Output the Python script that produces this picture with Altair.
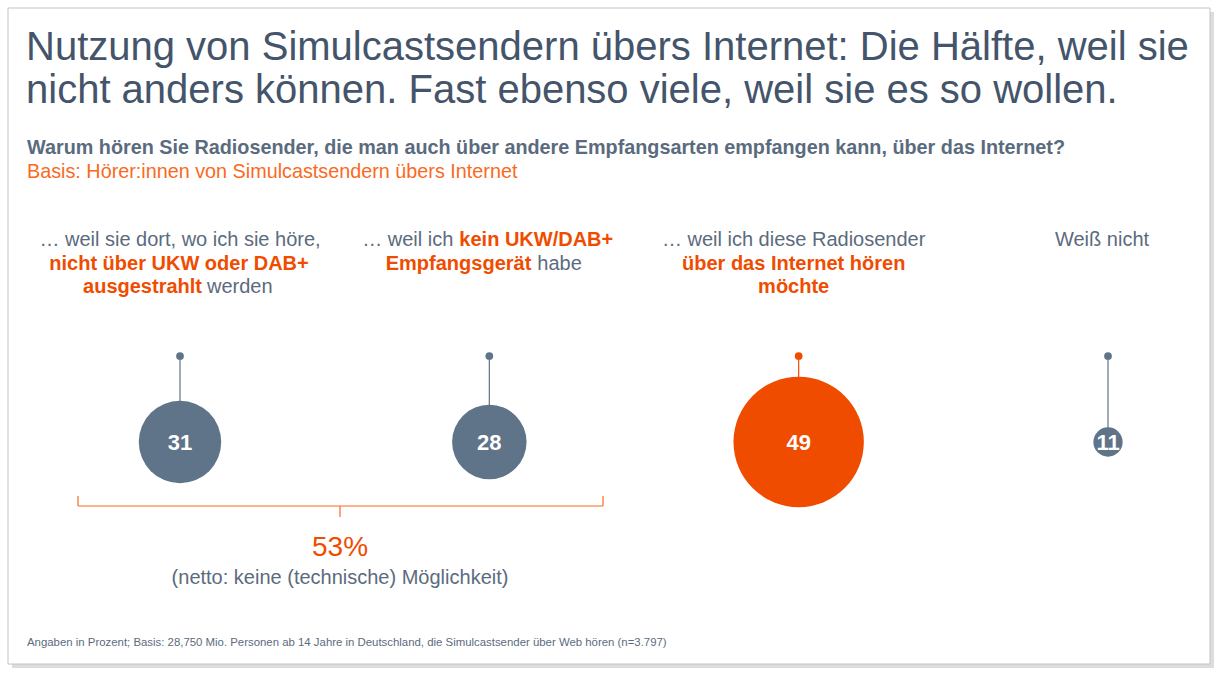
import altair as alt
import pandas as pd

# ---------------- data ----------------
categories = ["nicht_ausgestrahlt", "kein_geraet", "internet_moechte", "weiss_nicht"]
values = [31, 28, 49, 11]
groups = ["base", "base", "hl", "base"]

seg_cat = ["nicht_ausgestrahlt", "nicht_ausgestrahlt", "nicht_ausgestrahlt", "nicht_ausgestrahlt",
           "kein_geraet", "kein_geraet", "kein_geraet", "kein_geraet",
           "internet_moechte", "internet_moechte", "internet_moechte",
           "weiss_nicht"]
seg_line = [0, 1, 2, 2,
            0, 0, 1, 1,
            0, 1, 2,
            0]
seg_text = ["… weil sie dort, wo ich sie höre,", "nicht über UKW oder DAB+", "ausgestrahlt", "werden",
            "… weil ich", "kein UKW/DAB+", "Empfangsgerät", "habe",
            "… weil ich diese Radiosender", "über das Internet hören", "möchte",
            "Weiß nicht"]
seg_bold = [False, True, True, False,
            False, True, True, False,
            False, True, True,
            False]

title_lines = ["Nutzung von Simulcastsendern übers Internet: Die Hälfte, weil sie",
               "nicht anders können. Fast ebenso viele, weil sie es so wollen."]
subtitle = "Warum hören Sie Radiosender, die man auch über andere Empfangsarten empfangen kann, über das Internet?"
basis = "Basis: Hörer:innen von Simulcastsendern übers Internet"
net_value = "53%"
net_label = "(netto: keine (technische) Möglichkeit)"
footnote = "Angaben in Prozent; Basis: 28,750 Mio. Personen ab 14 Jahre in Deutschland, die Simulcastsender über Web hören (n=3.797)"

# ---------------- styles / layout ----------------
FONT = "Liberation Sans"
GRAY = "#5f7389"
TEXT_GRAY = "#5b6b7e"
TITLE = "#44546a"
ORANGE = "#f04c00"
ORANGE_LIGHT = "#fa6a1e"

# per-segment alignment and horizontal offset (layout, not data)
seg_align = ["center", "center", "right", "left",
             "right", "left", "right", "left",
             "center", "center", "center",
             "center"]
seg_dx = [0, -1, 22, 27,
          -36, -30, 42, 48,
          -5, -5, -5,
          -6]

df = pd.DataFrame({"cat": categories, "value": values, "grp": groups})
seg = pd.DataFrame({"cat": seg_cat, "line": seg_line, "text": seg_text,
                    "bold": seg_bold, "align": seg_align, "dx": seg_dx})
one = pd.DataFrame({"a": [0]})

xscale = alt.Scale(type="point", domain=categories, range=[180, 1108], padding=0)
X = alt.X("cat:N", scale=xscale, axis=None)
color = alt.Color("grp:N", scale=alt.Scale(domain=["base", "hl"], range=[GRAY, ORANGE]), legend=None)

base = alt.Chart(df)

# frame (decoration)
shadow = alt.Chart(one).mark_rect(fill="#dddddd").encode(
    x=alt.value(12), x2=alt.value(1214), y=alt.value(12), y2=alt.value(668))
frame = alt.Chart(one).mark_rect(fill="white", stroke="#c4c4c4", strokeWidth=1).encode(
    x=alt.value(8), x2=alt.value(1210), y=alt.value(8), y2=alt.value(664))

stems = base.mark_rule(strokeWidth=1.2).encode(x=X, y=alt.value(356), y2=alt.value(442), color=color)
dots = base.mark_circle(size=60, opacity=1).encode(x=X, y=alt.value(356), color=color)
bubbles = base.mark_circle(opacity=1).encode(
    x=X, y=alt.value(442), color=color,
    size=alt.Size("value:Q", scale=alt.Scale(type="pow", exponent=2, domain=[0, 50], range=[0, 17689]),
                  legend=None))
numbers = base.mark_text(font=FONT, fontSize=22, fontWeight="bold", color="white",
                         baseline="middle").encode(x=X, y=alt.value(443), text="value:Q")

yline = alt.Y("line:O", scale=alt.Scale(type="point", domain=[0, 1, 2], range=[240, 287], padding=0),
              axis=None)
label_layers = []
for b in [False, True]:
    for al in ["center", "left", "right"]:
        label_layers.append(
            alt.Chart(seg).transform_filter(
                f"datum.bold == {'true' if b else 'false'} && datum.align == '{al}'"
            ).mark_text(font=FONT, fontSize=20, align=al, baseline="middle",
                        fontWeight="bold" if b else "normal",
                        color=ORANGE if b else TEXT_GRAY).encode(
                x=X, y=yline, text="text:N",
                xOffset=alt.XOffset("dx:Q", scale=None)))

# brace below first two columns
brace_col = ORANGE_LIGHT
brace = [
    alt.Chart(one).mark_rule(color=brace_col, strokeWidth=1.2).encode(
        x=alt.value(78), x2=alt.value(603), y=alt.value(506)),
    alt.Chart(one).mark_rule(color=brace_col, strokeWidth=1.2).encode(
        x=alt.value(78), y=alt.value(496), y2=alt.value(506)),
    alt.Chart(one).mark_rule(color=brace_col, strokeWidth=1.2).encode(
        x=alt.value(603), y=alt.value(496), y2=alt.value(506)),
    alt.Chart(one).mark_rule(color=brace_col, strokeWidth=1.2).encode(
        x=alt.value(340), y=alt.value(506), y2=alt.value(517)),
]
net1 = alt.Chart(one).mark_text(text=net_value, font=FONT, fontSize=28, color=ORANGE,
                                baseline="middle").encode(x=alt.value(340), y=alt.value(548))
net2 = alt.Chart(one).mark_text(text=net_label, font=FONT, fontSize=20, color=TEXT_GRAY,
                                baseline="middle").encode(x=alt.value(340), y=alt.value(578))

titles = [
    alt.Chart(one).mark_text(text=title_lines[0], font=FONT, fontSize=40, color=TITLE, align="left",
                             baseline="alphabetic").encode(x=alt.value(26), y=alt.value(60)),
    alt.Chart(one).mark_text(text=title_lines[1], font=FONT, fontSize=40, color=TITLE, align="left",
                             baseline="alphabetic").encode(x=alt.value(26), y=alt.value(103)),
    alt.Chart(one).mark_text(text=subtitle, font=FONT, fontSize=19.8, fontWeight="bold", color=TEXT_GRAY,
                             align="left", baseline="alphabetic").encode(x=alt.value(27), y=alt.value(154)),
    alt.Chart(one).mark_text(text=basis, font=FONT, fontSize=19.8, color=ORANGE_LIGHT,
                             align="left", baseline="alphabetic").encode(x=alt.value(27), y=alt.value(178)),
    alt.Chart(one).mark_text(text=footnote, font=FONT, fontSize=11.4, color=TEXT_GRAY,
                             align="left", baseline="alphabetic").encode(x=alt.value(27), y=alt.value(646)),
]

chart = alt.layer(
    shadow, frame, stems, dots, bubbles, numbers, *label_layers, *brace, net1, net2, *titles
).properties(
    width=1220, height=674, padding=0, autosize=alt.AutoSizeParams(type="none"),
    background="white"
).configure_view(stroke=None)

chart.save("out.html", embed_options={"renderer": "svg", "actions": False})
